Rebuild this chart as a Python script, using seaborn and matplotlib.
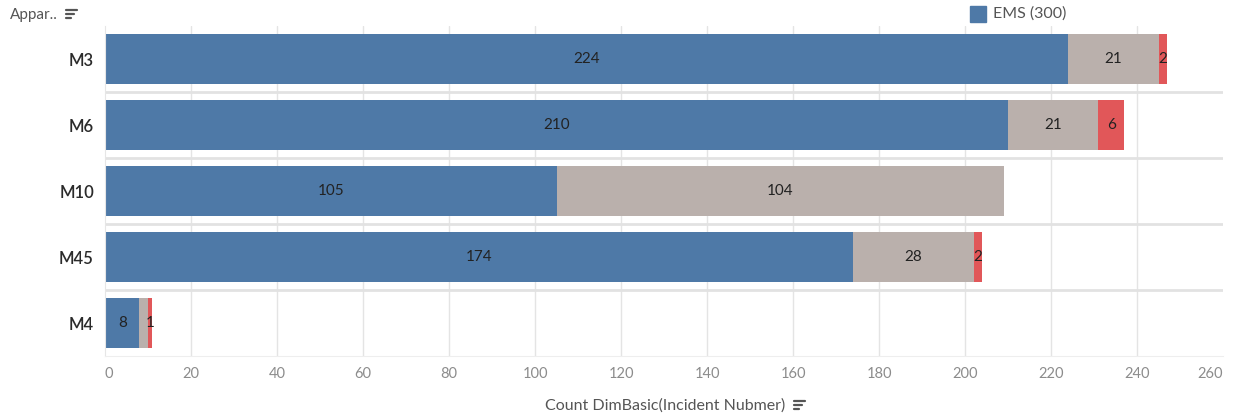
import pandas as pd
import matplotlib.pyplot as plt
import seaborn as sns
from matplotlib.lines import Line2D

categories = ['M3', 'M6', 'M10', 'M45', 'M4']
ems = [224, 210, 105, 174, 8]
other = [21, 21, 104, 28, 2]
fire = [2, 6, 0, 2, 1]
x_ticks = list(range(0, 261, 20))
# labels Tableau dropped because they overlap: (category, segment)
hidden = [('M4', 'other')]

blue, grey, red = '#4e79a7', '#bab0ac', '#e15759'

df = pd.DataFrame({'cat': categories, 'ems': ems, 'other': other, 'fire': fire})
df['ems_other'] = df['ems'] + df['other']
df['total'] = df['ems_other'] + df['fire']

sns.set_style('white')
plt.rcParams['font.family'] = ['Lato', 'DejaVu Sans']

fig = plt.figure(figsize=(12.33, 4.19), dpi=100)
ax = fig.add_axes([105 / 1233, 63 / 419, 1118 / 1233, 330 / 419])

# stacked bars drawn as overlapping cumulative totals
sns.barplot(data=df, x='total', y='cat', color=red, width=0.76, linewidth=0, saturation=1, ax=ax)
sns.barplot(data=df, x='ems_other', y='cat', color=grey, width=0.76, linewidth=0, saturation=1, ax=ax)
sns.barplot(data=df, x='ems', y='cat', color=blue, width=0.76, linewidth=0, saturation=1, ax=ax)

ax.set_xlim(0, 260)
ax.set_ylim(4.5, -0.5)
ax.set_xticks(x_ticks)
for t in x_ticks[1:-1]:
    ax.axvline(t, color='#e4e4e4', lw=1, zorder=0)
for b in [0.5, 1.5, 2.5, 3.5]:
    ax.axhline(b, color='#e2e2e2', lw=2, zorder=0)
ax.set_axisbelow(True)

for s in ['top', 'right']:
    ax.spines[s].set_visible(False)
ax.spines['left'].set_color('#e6e6e6')
ax.spines['bottom'].set_color('#eeeeee')

ax.tick_params(axis='x', length=0, labelsize=10.5, labelcolor='#8c8c8c', pad=8)
ax.tick_params(axis='y', length=0, labelsize=12, labelcolor='#2b2b2b', pad=8)
for lab in ax.get_yticklabels():
    lab.set_fontweight('semibold')
xl = ax.get_xticklabels()
xl[0].set_ha('left')
xl[-1].set_ha('right')
ax.set_xlabel('')
ax.set_ylabel('')

# segment labels
for i, row in df.iterrows():
    segs = [('ems', 0), ('other', row['ems']), ('fire', row['ems_other'])]
    for name, left in segs:
        v = row[name]
        if v == 0 or (row['cat'], name) in hidden:
            continue
        ax.text(left + v / 2, i, str(v), ha='center', va='center',
                fontsize=11, color='#222222')

# axis title and header
fig.text(665 / 1233, 1 - 406 / 419, 'Count DimBasic(Incident Nubmer)', ha='center', va='center',
         fontsize=11.5, color='#555555')
fig.text(10 / 1233, 1 - 15 / 419, 'Appar..', ha='left', va='center', fontsize=11, color='#555555')


def sort_icon(x, y):
    for k, w in enumerate([11, 8, 5]):
        fig.add_artist(Line2D([x / 1233, (x + w) / 1233],
                              [1 - (y + k * 4) / 419] * 2, color='#555555', lw=1.6))


sort_icon(66, 10)
sort_icon(794, 401)

# legend
fig.patches.append(plt.Rectangle((970 / 1233, 1 - 22 / 419), 16 / 1233, 16 / 419,
                                 transform=fig.transFigure, color=blue))
fig.text(993 / 1233, 1 - 14 / 419, 'EMS (300)', ha='left', va='center', fontsize=11.5, color='#555555')

fig.savefig('out.png', dpi=100)
